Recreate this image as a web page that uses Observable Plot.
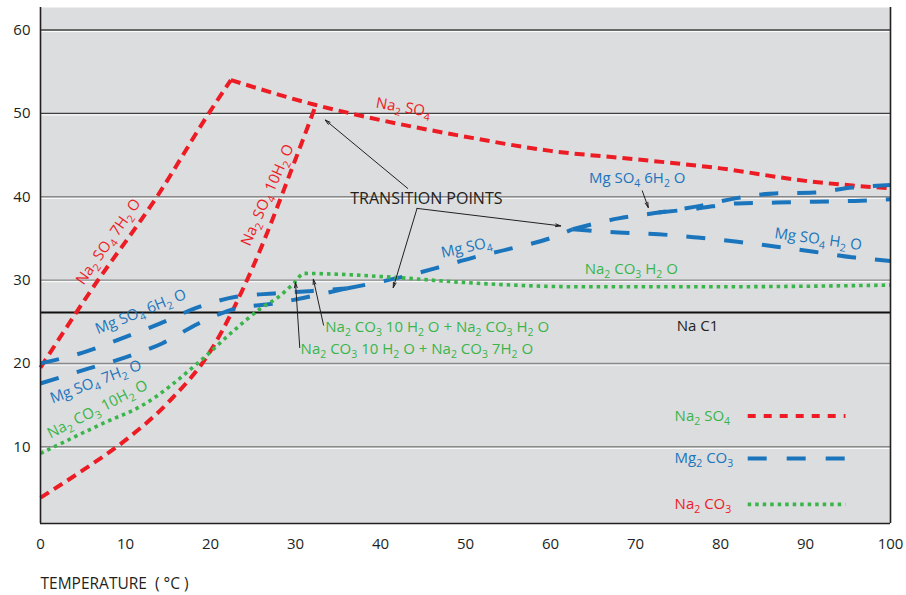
<!DOCTYPE html>
<html>
<head>
<meta charset="utf-8">
<script src="https://cdn.jsdelivr.net/npm/d3@7"></script>
<script src="https://cdn.jsdelivr.net/npm/@observablehq/plot@0.6"></script>
<style>
  body { margin: 0; background: #fff; }
  svg { display: block; }
</style>
</head>
<body>
<div id="chart"></div>
<script>
// ---------- data ----------
const xTicks = [0, 10, 20, 30, 40, 50, 60, 70, 80, 90, 100];
const yTicks = [10, 20, 30, 40, 50, 60];
const naclLevel = 26.1;

// Na2SO4 (red)
const na2so4_10_t = [0, 5, 10, 15, 20, 25, 30, 32.4];
const na2so4_10_s = [3.9, 7.2, 10.8, 15.3, 21.5, 31.6, 44.5, 51];
const na2so4_7_t = [0, 5.9, 13.7, 19.8, 22.4];
const na2so4_7_s = [19.5, 28.7, 40, 50, 54];
const na2so4_an_t = [22.4, 32.4, 40, 50, 60, 70, 80, 90, 100];
const na2so4_an_s = [54, 51, 49.2, 47.2, 45.5, 44.5, 43.4, 41.9, 41];

// MgSO4 (blue)
const mg6_left_t = [0, 5.6, 9.8, 14.1, 18.4, 23, 27.5, 32, 36];
const mg6_left_s = [20, 21.5, 23.1, 24.8, 26.7, 28, 28.4, 28.7, 29];
const mg7_t = [0, 5.7, 9.9, 14.3, 18.6, 23, 27.6, 32, 36];
const mg7_s = [17.6, 19.4, 20.7, 22.4, 24.8, 26.6, 27.2, 28.1, 29];
const mgmid_t = [36, 41.8, 46.4, 50.9, 55.4, 59.9, 62.6];
const mgmid_s = [29, 30.2, 31.4, 32.7, 33.8, 35, 36.1];
const mg6a_t = [62.6, 68, 72.7, 77.6, 81.7, 86.4, 91, 95.5, 100];
const mg6a_s = [36.1, 37.4, 38.1, 38.9, 39.8, 40.4, 40.5, 41.1, 41.4];
const mg6b_t = [72.7, 77.3, 82, 86.6, 91, 95.8, 100];
const mg6b_s = [38.1, 38.6, 39.2, 39.3, 39.4, 39.5, 39.7];
const mg1_t = [62.6, 68, 72.7, 77.3, 82, 86.6, 91, 95.8, 100];
const mg1_s = [36.1, 35.7, 35.5, 35.1, 34.6, 34, 33.4, 32.7, 32.3];

// Na2CO3 (green)
const na2co3_t = [0, 7.1, 12.2, 18.8, 22.7, 25.9, 27.9, 29.8, 31, 35, 42, 50, 63.5, 80, 100];
const na2co3_s = [9.2, 12.7, 15.1, 20.3, 23.9, 26.6, 27.9, 29.6, 30.8, 30.7, 30.3, 29.7, 29.2, 29.2, 29.4];

// annotation texts ("_x" = subscript x)
const labelText = [
  "Na_2 SO_4 7H_2 O", "Na_2 SO_4 10H_2 O", "Na_2 SO_4",
  "Mg SO_4 6H_2 O", "Mg SO_4 7H_2 O", "Mg SO_4", "Mg SO_4 6H_2 O", "Mg SO_4 H_2 O",
  "Na_2 CO_3 10H_2 O", "Na_2 CO_3 H_2 O",
  "Na_2 CO_3 10 H_2 O + Na_2 CO_3 H_2 O", "Na_2 CO_3 10 H_2 O + Na_2 CO_3 7H_2 O",
  "Na C1", "TRANSITION POINTS"
];
const labelX = [8, 26.7, 42.7, 11.8, 6.5, 50.1, 70.2, 91.5, 6.7, 69.5, 33.5, 30.6, 77.3, 45.4];
const labelY = [34.6, 40.2, 50.7, 26.2, 17.8, 33.9, 42.2, 34.9, 14.5, 31.3, 24.4, 21.7, 24.5, 39.8];
const labelKind = ["red", "red", "red", "blue", "blue", "blue", "blue", "blue", "green", "green", "green", "green", "black", "black"];
const labelRotate = [-55, -66, 10, -22, -21, -12, 0, 8, -27, 0, 0, 0, 0, 0];

// arrows
const arrowX1 = [43.2, 44.3, 44.3, 70.8, 33.3, 30.5];
const arrowY1 = [41.0, 38.6, 38.6, 40.7, 24.6, 21.9];
const arrowX2 = [33.5, 41.5, 61.2, 71.5, 32.1, 30.0];
const arrowY2 = [49.2, 29.1, 36.5, 38.7, 30.1, 29.7];

// legend
const legendText = ["Na_2 SO_4", "Mg_2 CO_3", "Na_2 CO_3"];
const legendTextKind = ["green", "blue", "red"];
const legendLineKind = ["red", "blue", "green"];
const legendY = [13.7, 8.6, 3.1];
const legendLineX1 = 83.2, legendLineX2 = 94.7, legendTextX = 74.6;

// ---------- styles ----------
const COLORS = { red: "#ed1c24", blue: "#1b75bc", green: "#39b54a", black: "#231f20" };
const DASH = { red: "10,6", blue: "19,19", green: "3.5,4" };
const LEGDASH = { red: "8,8", blue: "19,20", green: "3.5,4" };
const WIDTH = { red: 4, blue: 4, green: 3.6 };
const BG = "#dcdddf";

// ---------- build rows ----------
function seg(name, kind, ts, ss) { return ts.map((t, i) => ({ seg: name, kind, t, s: ss[i] })); }
const lines = [
  ...seg("na10", "red", na2so4_10_t, na2so4_10_s),
  ...seg("na7", "red", na2so4_7_t, na2so4_7_s),
  ...seg("naan", "red", na2so4_an_t, na2so4_an_s),
  ...seg("mg6l", "blue", mg6_left_t, mg6_left_s),
  ...seg("mg7", "blue", mg7_t, mg7_s),
  ...seg("mgm", "blue", mgmid_t, mgmid_s),
  ...seg("mg6a", "blue", mg6a_t, mg6a_s),
  ...seg("mg6b", "blue", mg6b_t, mg6b_s),
  ...seg("mg1", "blue", mg1_t, mg1_s),
  ...seg("nc", "green", na2co3_t, na2co3_s)
];
const labels = labelText.map((text, i) => ({ text, x: labelX[i], y: labelY[i], kind: labelKind[i], rotate: labelRotate[i] }));
const arrows = arrowX1.map((x1, i) => ({ x1, y1: arrowY1[i], x2: arrowX2[i], y2: arrowY2[i] }));
const legend = legendText.map((text, i) => ({ text, y: legendY[i], tk: legendTextKind[i], lk: legendLineKind[i] }));

const yDomain = [0.8, 62.7];

const lineMarks = ["red", "blue", "green"].map(k =>
  Plot.line(lines.filter(d => d.kind === k), {
    x: "t", y: "s", z: "seg", stroke: COLORS[k], strokeWidth: WIDTH[k],
    strokeDasharray: DASH[k], strokeLinecap: "butt", curve: "monotone-x"
  })
);
const legendMarks = ["red", "blue", "green"].map(k =>
  Plot.link(legend.filter(d => d.lk === k), {
    x1: () => legendLineX1, x2: () => legendLineX2, y1: "y", y2: "y",
    stroke: COLORS[k], strokeWidth: WIDTH[k], strokeDasharray: LEGDASH[k]
  })
);
const labelMarks = labels.map(d =>
  Plot.text([d], {
    x: "x", y: "y", text: "text", rotate: d.rotate,
    fill: COLORS[d.kind],
    fontSize: d.text.startsWith("TRANS") ? 16 : 15,
    textAnchor: d.text.includes("+") ? "start" : "middle"
  })
);
const legendTextMarks = ["green", "blue", "red"].map(k =>
  Plot.text(legend.filter(d => d.tk === k), {
    x: () => legendTextX, y: "y", text: "text", fill: COLORS[k], fontSize: 15, textAnchor: "start"
  })
);

const chart = Plot.plot({
  width: 906,
  height: 595,
  marginTop: 7,
  marginLeft: 40,
  marginRight: 16,
  marginBottom: 72,
  style: { fontFamily: "'Open Sans', sans-serif", fontSize: "15px", color: "#231f20", background: "#fff" },
  x: { domain: [0, 100] },
  y: { domain: yDomain },
  marks: [
    Plot.frame({ fill: BG, stroke: null }),
    Plot.ruleY(yTicks, { stroke: "#ffffff", strokeWidth: 1, dy: 1.6 }),
    Plot.ruleY(yTicks.filter(v => v < 50), { stroke: "#8a8a8a", strokeWidth: 1.4 }),
    Plot.ruleY(yTicks.filter(v => v >= 50), { stroke: "#404040", strokeWidth: 1.3 }),
    Plot.ruleY([naclLevel], { stroke: "#111", strokeWidth: 2 }),
    ...lineMarks,
    Plot.arrow(arrows, { x1: "x1", y1: "y1", x2: "x2", y2: "y2", stroke: "#231f20", strokeWidth: 1, headLength: 8, headAngle: 30 }),
    ...labelMarks,
    ...legendMarks,
    ...legendTextMarks,
    Plot.ruleX([0], { stroke: "#231f20", strokeWidth: 1.6 }),
    Plot.ruleX([100], { stroke: "#231f20", strokeWidth: 1.6 }),
    Plot.ruleY([yDomain[0]], { stroke: "#231f20", strokeWidth: 1.6 }),
    Plot.axisY(yTicks, { tickSize: 0, tickPadding: 10, fontSize: 15, label: null, fill: "#231f20" }),
    Plot.axisX(xTicks, { tickSize: 0, tickPadding: 15, fontSize: 15, label: null, fill: "#231f20" }),
    Plot.text(["TEMPERATURE  ( \u00B0C )"], { frameAnchor: "bottom-left", dy: 65, textAnchor: "start", fontSize: 15.5, fill: "#231f20" })
  ]
});

// subscripts: "_x" -> lowered, smaller x
function applySubs(root) {
  const NS = "http://www.w3.org/2000/svg";
  root.querySelectorAll("text").forEach(t => {
    const s = t.textContent;
    if (!s.includes("_")) return;
    t.textContent = "";
    const parts = s.split(/(_\w)/).filter(p => p.length);
    let low = false;
    for (const p of parts) {
      const ts = document.createElementNS(NS, "tspan");
      if (p.startsWith("_")) {
        ts.textContent = p.slice(1);
        ts.setAttribute("font-size", "0.7em");
        ts.setAttribute("dy", "4");
        low = true;
      } else {
        ts.textContent = p;
        if (low) { ts.setAttribute("dy", "-4"); low = false; }
      }
      t.appendChild(ts);
    }
  });
}
applySubs(chart);
document.getElementById("chart").appendChild(chart);
</script>
</body>
</html>
